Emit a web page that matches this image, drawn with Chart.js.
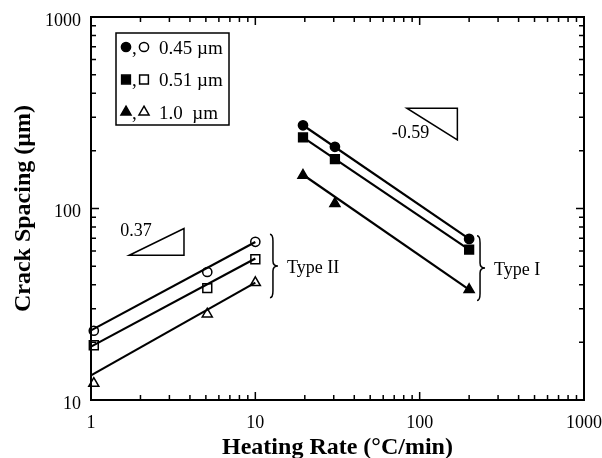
<!DOCTYPE html>
<html>
<head>
<meta charset="utf-8">
<script src="https://cdn.jsdelivr.net/npm/chart.js@4.4.1/dist/chart.umd.min.js"></script>
<style>
    body { margin: 0; background: #fff; }
    #wrap { width: 602px; height: 458px; }
</style>
</head>
<body>
<div id="wrap"><canvas id="myChart" width="602" height="458"></canvas></div>
<script>
// heating rate (°C/min) of the measured points
const rateTypeII = [1.04, 5.1, 10];
const rateTypeI = [19.5, 30.5, 200];

// crack spacing (µm), open markers = Type II, filled = Type I
const spacing045TypeII = [23, 46.6, 67];
const spacing051TypeII = [19.3, 38.4, 54.3];
const spacing10TypeII = [12.2, 28.1, 41];
const spacing045TypeI = [272, 210, 69.4];
const spacing051TypeI = [235, 181, 61];
const spacing10TypeI = [149, 106, 37.7];

// fitted lines, end points
const fitRateTypeII = [1, 10];
const fit045TypeII = [23.1, 66.9];
const fit051TypeII = [19.0, 54.8];
const fit10TypeII = [13.45, 41.0];
const fitRateTypeI = [19.5, 200];
const fit045TypeI = [272, 69.4];
const fit051TypeI = [235, 61];
const fit10TypeI = [150, 37.7];

const sizeLabels = ['0.45 \u00b5m', '0.51 \u00b5m', '1.0  \u00b5m'];
const xTickValues = [1, 10, 100, 1000];
const yTickValues = [10, 100, 1000];

// slope triangles and braces, in data units
const slopeUp = { label: '0.37', from: [1.71, 57], to: [3.68, 78.6] };
const slopeDown = { label: '-0.59', from: [83.5, 334], to: [169.6, 228] };
const braceTypeII = { label: 'Type II', x: 12.8, top: 73.3, bottom: 34.2 };
const braceTypeI = { label: 'Type I', x: 233, top: 72.1, bottom: 33.1 };

const serif = "'Liberation Serif', 'Times New Roman', serif";

function pts(xs, ys) {
    return xs.map((v, i) => ({ x: v, y: ys[i] }));
}

function fitSet(xs, ys) {
    return { data: pts(xs, ys), showLine: true, borderColor: '#000', borderWidth: 2.2, pointRadius: 0, clip: false };
}

function markSet(xs, ys, style, radius, filled) {
    return {
        data: pts(xs, ys), showLine: false, clip: false,
        pointStyle: style, pointRadius: radius, pointHoverRadius: radius,
        backgroundColor: filled ? '#000' : '#fff', borderColor: '#000', pointBorderWidth: 1.5
    };
}

function marker(ctx, style, x, y, r, filled) {
    ctx.beginPath();
    if (style === 'circle') {
        ctx.arc(x, y, r, 0, Math.PI * 2);
    } else if (style === 'rect') {
        const s = r * Math.SQRT1_2;
        ctx.rect(x - s, y - s, 2 * s, 2 * s);
    } else {
        const h = r * 1.5;
        ctx.moveTo(x, y - r);
        ctx.lineTo(x + r * 0.866, y - r + h);
        ctx.lineTo(x - r * 0.866, y - r + h);
        ctx.closePath();
    }
    ctx.fillStyle = filled ? '#000' : '#fff';
    ctx.fill();
    ctx.lineWidth = 1.5;
    ctx.stroke();
}

function brace(ctx, x, top, bottom) {
    const mid = (top + bottom) / 2, w = 5;
    ctx.beginPath();
    ctx.moveTo(x - 3, top);
    ctx.quadraticCurveTo(x, top, x, top + 7);
    ctx.lineTo(x, mid - 5);
    ctx.quadraticCurveTo(x, mid, x + w, mid);
    ctx.quadraticCurveTo(x, mid, x, mid + 5);
    ctx.lineTo(x, bottom - 7);
    ctx.quadraticCurveTo(x, bottom, x - 3, bottom);
    ctx.stroke();
}

const decorPlugin = {
    id: 'decor',
    afterDraw(chart) {
        const { ctx, chartArea: a, scales: { x, y } } = chart;
        ctx.save();
        ctx.strokeStyle = '#000';
        ctx.fillStyle = '#000';

        // frame
        ctx.lineWidth = 2;
        ctx.strokeRect(a.left, a.top, a.right - a.left, a.bottom - a.top);

        // inward ticks on all four sides
        ctx.lineWidth = 1.5;
        ctx.beginPath();
        for (let d = 1; d < 1000; d *= 10) {
            for (let k = 1; k <= 10; k++) {
                const px = x.getPixelForValue(d * k);
                const len = (k === 1 || k === 10) ? 8 : 5;
                ctx.moveTo(px, a.bottom); ctx.lineTo(px, a.bottom - len);
                ctx.moveTo(px, a.top); ctx.lineTo(px, a.top + len);
            }
        }
        for (let d = 10; d < 1000; d *= 10) {
            for (let k = 1; k <= 10; k++) {
                const py = y.getPixelForValue(d * k);
                const len = (k === 1 || k === 10) ? 8 : 5;
                ctx.moveTo(a.left, py); ctx.lineTo(a.left + len, py);
                ctx.moveTo(a.right, py); ctx.lineTo(a.right - len, py);
            }
        }
        ctx.stroke();

        ctx.font = '18px ' + serif;
        ctx.textBaseline = 'middle';

        // slope triangles
        ctx.lineWidth = 1.5;
        let x1 = x.getPixelForValue(slopeUp.from[0]), y1 = y.getPixelForValue(slopeUp.from[1]);
        let x2 = x.getPixelForValue(slopeUp.to[0]), y2 = y.getPixelForValue(slopeUp.to[1]);
        ctx.beginPath();
        ctx.moveTo(x1, y1); ctx.lineTo(x2, y2); ctx.lineTo(x2, y1); ctx.closePath();
        ctx.stroke();
        ctx.textAlign = 'left';
        ctx.fillText(slopeUp.label, x1 - 9, y2 + 3);

        x1 = x.getPixelForValue(slopeDown.from[0]); y1 = y.getPixelForValue(slopeDown.from[1]);
        x2 = x.getPixelForValue(slopeDown.to[0]); y2 = y.getPixelForValue(slopeDown.to[1]);
        ctx.beginPath();
        ctx.moveTo(x1, y1); ctx.lineTo(x2, y1); ctx.lineTo(x2, y2); ctx.closePath();
        ctx.stroke();
        ctx.fillText(slopeDown.label, x1 - 15, y2 - 7);

        // braces
        for (const b of [braceTypeII, braceTypeI]) {
            const bx = x.getPixelForValue(b.x);
            const bt = y.getPixelForValue(b.top), bb = y.getPixelForValue(b.bottom);
            brace(ctx, bx, bt, bb);
            ctx.fillText(b.label, bx + 14, (bt + bb) / 2 + 2);
        }

        // legend box
        const lx = a.left + 25, ly = a.top + 16, lw = 113, lh = 92;
        ctx.lineWidth = 1.5;
        ctx.strokeRect(lx, ly, lw, lh);
        const styles = ['circle', 'rect', 'triangle'];
        const radii = [4.6, 6.2, 5.8];
        ctx.font = '19px ' + serif;
        styles.forEach((s, i) => {
            const cy = ly + 14 + i * 32.5;
            marker(ctx, s, lx + 10, cy, radii[i], true);
            marker(ctx, s, lx + 28, cy, radii[i], false);
            ctx.fillStyle = '#000';
            ctx.textAlign = 'left';
            ctx.fillText(',', lx + 16, cy + 2);
            ctx.fillText(sizeLabels[i], lx + 43, cy + 2);
        });

        ctx.restore();
    }
};

const ctx = document.getElementById('myChart');
Chart.defaults.font.family = serif;
Chart.defaults.color = '#000';

const chart = new Chart(ctx, {
    type: 'scatter',
    data: {
        datasets: [
            fitSet(fitRateTypeII, fit045TypeII),
            fitSet(fitRateTypeII, fit051TypeII),
            fitSet(fitRateTypeII, fit10TypeII),
            fitSet(fitRateTypeI, fit045TypeI),
            fitSet(fitRateTypeI, fit051TypeI),
            fitSet(fitRateTypeI, fit10TypeI),
            markSet(rateTypeII, spacing045TypeII, 'circle', 4.6, false),
            markSet(rateTypeII, spacing051TypeII, 'rect', 6.3, false),
            markSet(rateTypeII, spacing10TypeII, 'triangle', 5.8, false),
            markSet(rateTypeI, spacing045TypeI, 'circle', 4.6, true),
            markSet(rateTypeI, spacing051TypeI, 'rect', 6.2, true),
            markSet(rateTypeI, spacing10TypeI, 'triangle', 5.8, true)
        ]
    },
    options: {
        responsive: false,
        animation: false,
        events: [],
        layout: { padding: { left: 9, right: 18, top: 17, bottom: 0 } },
        plugins: {
            legend: { display: false },
            tooltip: { enabled: false }
        },
        scales: {
            x: {
                type: 'logarithmic',
                min: 1,
                max: 1000,
                afterBuildTicks: (s) => { s.ticks = xTickValues.map(v => ({ value: v })); },
                afterFit: (s) => { s.height = 58; s.paddingLeft = 0; s.paddingRight = 0; },
                grid: { display: false, drawTicks: false },
                border: { display: false },
                ticks: { padding: 12, maxRotation: 0, font: { size: 18 }, callback: (v) => String(v) },
                title: { display: true, text: 'Heating Rate (\u00b0C/min)', font: { size: 24, weight: 'bold' }, padding: { top: 0, bottom: -4 } }
            },
            y: {
                type: 'logarithmic',
                min: 10,
                max: 1000,
                afterBuildTicks: (s) => { s.ticks = yTickValues.map(v => ({ value: v })); },
                afterFit: (s) => { s.width = 82; s.paddingTop = 0; s.paddingBottom = 0; },
                grid: { display: false, drawTicks: false },
                border: { display: false },
                ticks: { padding: 10, labelOffset: 4, font: { size: 18 }, callback: (v) => String(v) },
                title: { display: true, text: 'Crack Spacing (\u00b5m)', font: { size: 24, weight: 'bold' }, padding: 0 }
            }
        }
    },
    plugins: [decorPlugin]
});
</script>
</body>
</html>
